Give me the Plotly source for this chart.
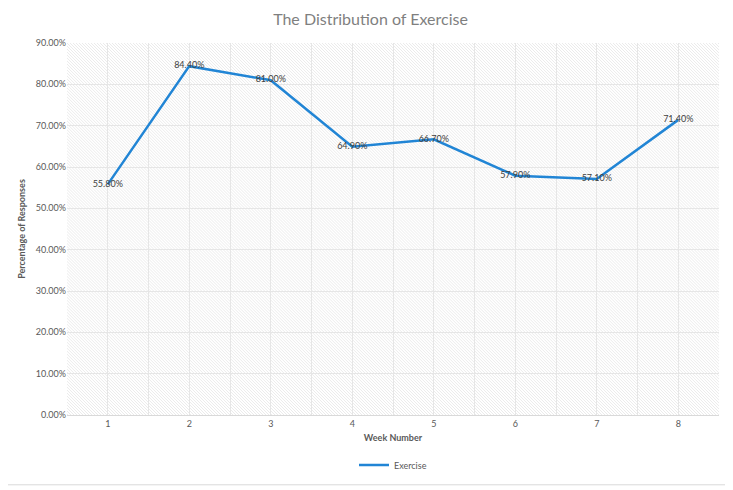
import plotly.graph_objects as go
import base64

weeks = [1, 2, 3, 4, 5, 6, 7, 8]
exercise = [0.558, 0.844, 0.810, 0.649, 0.667, 0.579, 0.571, 0.714]
labels = ["55.80%", "84.40%", "81.00%", "64.90%", "66.70%", "57.90%", "57.10%", "71.40%"]

OFF = 8  # page body margin
W, H = 733 - OFF, 490 - OFF
L, R, T, B = 67 - OFF, 14, 43 - OFF, 74
pw, ph = W - L - R, H - T - B

svg = (
    f'<svg xmlns="http://www.w3.org/2000/svg" width="{pw}" height="{ph}">'
    '<defs><pattern id="p" width="3" height="3" patternUnits="userSpaceOnUse">'
    '<path d="M-1,-1 L4,4 M-1,2 L1,4 M2,-1 L4,1" stroke="#e2e2e2" stroke-width="0.7"/>'
    '</pattern></defs>'
    f'<rect width="{pw}" height="{ph}" fill="#ffffff"/>'
    f'<rect width="{pw}" height="{ph}" fill="url(#p)"/></svg>'
)
src = "data:image/svg+xml;base64," + base64.b64encode(svg.encode()).decode()

font = "Lato, 'Open Sans', sans-serif"

fig = go.Figure()
fig.add_trace(go.Scatter(
    x=weeks, y=exercise, mode="lines+text", name="Exercise",
    line=dict(color="#2185d5", width=2.5),
    text=labels, textposition="middle center",
    textfont=dict(size=9, color="#404040", family=font),
))

def px2x(p):
    return (p - OFF - L) / pw

def py2y(p):
    return (H - B - (p - OFF)) / ph

fig.add_shape(type="rect", xref="paper", yref="paper",
              x0=px2x(3), x1=px2x(726), y0=py2y(486), y1=py2y(2),
              line=dict(color="#d9d9d9", width=1), layer="below")

fig.update_layout(
    width=W, height=H,
    margin=dict(l=L, r=R, t=T, b=B),
    paper_bgcolor="white", plot_bgcolor="rgba(0,0,0,0)",
    font=dict(family=font, color="#595959"),
    title=dict(text="The Distribution of Exercise", x=0.5, xanchor="center",
               y=1 - (19 - OFF) / H, yanchor="middle",
               font=dict(size=16, color="#7f7f7f", family=font)),
    images=[dict(source=src, xref="paper", yref="paper", x=0, y=1,
                 sizex=1, sizey=1, xanchor="left", yanchor="top",
                 sizing="stretch", layer="below")],
    showlegend=True,
    legend=dict(orientation="h", x=0.5, xanchor="center", y=py2y(465), yanchor="middle",
                font=dict(size=9, color="#595959", family=font)),
    xaxis=dict(range=[0.5, 8.5], tickvals=weeks, ticktext=[str(w) for w in weeks],
               showgrid=True, gridcolor="#e6e6e6", gridwidth=1,
               minor=dict(tickvals=[w + 0.5 for w in weeks[:-1]], showgrid=True,
                          gridcolor="#e6e6e6", gridwidth=1, ticks=""),
               showline=True, linecolor="#d9d9d9", linewidth=1, zeroline=False,
               ticks="", ticklen=0,
               tickfont=dict(size=9, color="#595959"),
               title=dict(text="<b>Week Number</b>", standoff=6,
                          font=dict(size=9, color="#595959"))),
    yaxis=dict(range=[0, 0.9], dtick=0.1, tickformat=".2%",
               showgrid=True, gridcolor="#e6e6e6", gridwidth=1,
               zeroline=False, showline=False, ticks="",
               tickfont=dict(size=9, color="#595959"),
               title=dict(text="<b>Percentage of Responses</b>", standoff=8,
                          font=dict(size=9, color="#595959"))),
)

fig.write_html("out.html")
